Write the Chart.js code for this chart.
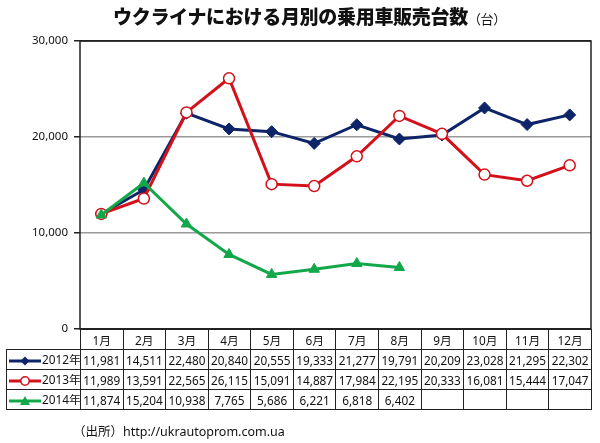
<!DOCTYPE html>
<html><head><meta charset="utf-8">
<script src="https://cdn.jsdelivr.net/npm/chart.js@4/dist/chart.umd.min.js"></script>
<style>
html,body{margin:0;padding:0;background:#fff;}
#wrap{position:relative;width:600px;height:443px;overflow:hidden;}
#c{position:absolute;left:0;top:0;}
#title{position:absolute;left:113px;top:2px;font-family:"Noto Sans CJK JP";font-weight:900;font-size:19px;color:#111;white-space:nowrap;letter-spacing:-0.3px;}
#title span{font-size:13px;font-weight:400;}
#tbl{position:absolute;left:6px;top:329px;border-collapse:collapse;table-layout:fixed;font-family:"Noto Sans","Noto Sans CJK JP";font-size:11.8px;color:#111;}
#tbl td{border:1.5px solid #222;height:19px;padding:0;text-align:center;white-space:nowrap;overflow:hidden;}
#tbl tr.h td{height:19px;}
#tbl td.blank{border-top:none;border-left:none;border-bottom:1.5px solid #222;}
#tbl td.lg{text-align:left;padding-left:1px;}
#tbl td.lg svg{vertical-align:middle;}
#src{position:absolute;left:73px;top:421px;font-family:"Noto Sans","Noto Sans CJK JP";font-size:12.5px;color:#111;white-space:nowrap;}
</style></head>
<body>
<div id="wrap">
<canvas id="c" width="600" height="443"></canvas>
<div id="title">ウクライナにおける月別の乗用車販売台数<span>（台）</span></div>
<table id="tbl"></table>
<div id="src">（出所）http://ukrautoprom.com.ua</div>
</div>
<script>
const months = ["1月","2月","3月","4月","5月","6月","7月","8月","9月","10月","11月","12月"];
const seriesNames = ["2012年","2013年","2014年"];
const sales2012 = [11981,14511,22480,20840,20555,19333,21277,19791,20209,23028,21295,22302];
const sales2013 = [11989,13591,22565,26115,15091,14887,17984,22195,20333,16081,15444,17047];
const sales2014 = [11874,15204,10938,7765,5686,6221,6818,6402,null,null,null,null];
const yTicks = [0,10000,20000,30000];

const NAVY = "#0d2468", RED = "#d4101a", GREEN = "#12a84a";
const fmt = v => v.toLocaleString("en-US");

const boxPlugin = {
  id: "box",
  afterDatasetsDraw(chart){},
  beforeDatasetsDraw(chart){
    const a = chart.chartArea, ctx = chart.ctx;
    ctx.save();
    ctx.strokeStyle = "#222"; ctx.lineWidth = 1.5;
    ctx.strokeRect(a.left, a.top, a.right - a.left, a.bottom - a.top);
    ctx.restore();
  }
};

const chart = new Chart(document.getElementById("c"), {
  type: "line",
  data: {
    labels: months,
    datasets: [
      {label: seriesNames[0], data: sales2012, borderColor: NAVY, backgroundColor: NAVY, borderWidth: 3,
       pointStyle: "rectRot", pointRadius: 6, pointBorderWidth: 1, pointBackgroundColor: NAVY, pointBorderColor: NAVY, order: 2, tension: 0},
      {label: seriesNames[1], data: sales2013, borderColor: RED, backgroundColor: "#fff", borderWidth: 3,
       pointStyle: "circle", pointRadius: 5.5, pointBorderWidth: 1.5, pointBackgroundColor: "#fff", pointBorderColor: RED, order: 1, tension: 0},
      {label: seriesNames[2], data: sales2014, borderColor: GREEN, backgroundColor: GREEN, borderWidth: 3,
       pointStyle: "triangle", pointRadius: 6, pointBorderWidth: 1, pointBackgroundColor: GREEN, pointBorderColor: GREEN, order: 0, tension: 0}
    ]
  },
  options: {
    responsive: false,
    animation: false,
    layout: {padding: {top: 41, right: 9, bottom: 114, left: 0}},
    plugins: {legend: {display: false}, tooltip: {enabled: false}, title: {display: false}},
    scales: {
      x: {
        offset: true,
        grid: {display: false},
        border: {display: false},
        ticks: {display: false},
        afterFit(s){ s.height = 0; }
      },
      y: {
        min: 0, max: 30000,
        afterBuildTicks(s){ s.ticks = yTicks.map(v => ({value: v})); },
        ticks: {callback: v => fmt(v), color: "#111", padding: 6,
                font: {family: "Noto Sans", size: 11.5}},
        grid: {color: c => (c.tick && (c.tick.value === 0 || c.tick.value === 30000)) ? "#222" : "#9a9a9a",
               lineWidth: 1.5, tickLength: 6, tickColor: "#222", drawOnChartArea: true},
        border: {display: false},
        afterFit(s){ s.width = 80; }
      }
    }
  },
  plugins: [boxPlugin]
});

// Build the data table aligned with the x scale
function legendSvg(i){
  const col = [NAVY, RED, GREEN][i];
  let mk = "";
  if (i === 0) mk = `<polygon points="17,3.5 21.5,8 17,12.5 12.5,8" fill="${col}"/>`;
  if (i === 1) mk = `<circle cx="17" cy="8" r="4.2" fill="#fff" stroke="${col}" stroke-width="1.5"/>`;
  if (i === 2) mk = `<polygon points="17,3 22,12 12,12" fill="${col}"/>`;
  return `<svg width="34" height="16" viewBox="0 0 34 16"><line x1="1" y1="8" x2="33" y2="8" stroke="${col}" stroke-width="3"/>${mk}</svg>`;
}
const xs = chart.scales.x, area = chart.chartArea;
const colW = (area.right - area.left) / months.length;
const tbl = document.getElementById("tbl");
let html = `<colgroup><col style="width:${area.left - 6}px">` + months.map(() => `<col style="width:${colW}px">`).join("") + `</colgroup>`;
html += `<tr class="h"><td class="blank"></td>` + months.map(m => `<td>${m}</td>`).join("") + `</tr>`;
[sales2012, sales2013, sales2014].forEach((arr, i) => {
  html += `<tr><td class="lg">${legendSvg(i)}<span>${seriesNames[i]}</span></td>` +
    arr.map(v => `<td>${v == null ? "" : fmt(v)}</td>`).join("") + `</tr>`;
});
tbl.innerHTML = html;
tbl.style.width = (area.right - 6) + "px";
tbl.style.top = (area.bottom) + "px";
</script>
</body></html>
